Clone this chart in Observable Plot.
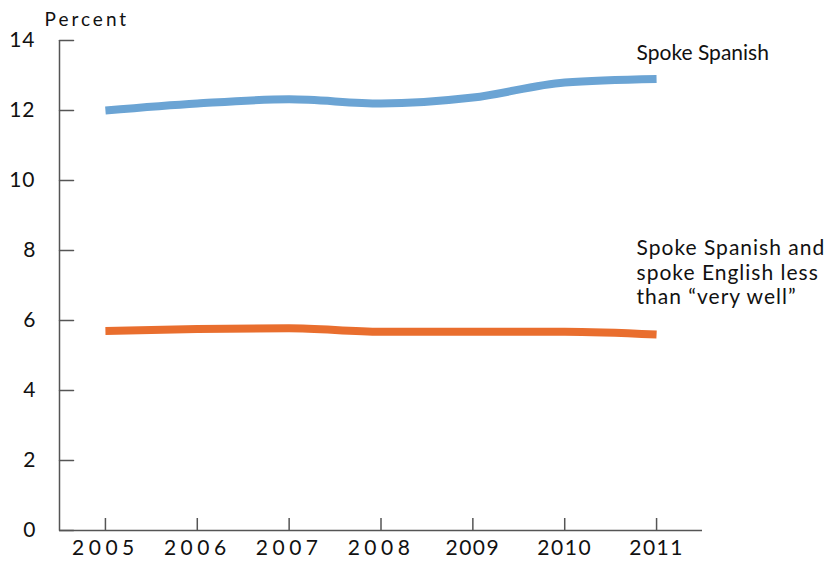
<!DOCTYPE html>
<html>
<head>
<meta charset="utf-8">
<script src="https://cdn.jsdelivr.net/npm/d3@7"></script>
<script src="https://cdn.jsdelivr.net/npm/@observablehq/plot@0.6"></script>
<style>
  html, body { margin: 0; padding: 0; background: #fff; }
  svg { font-family: Lato, "Open Sans", sans-serif; }
</style>
</head>
<body>
<div id="chart"></div>
<script>
const years = [2005, 2006, 2007, 2008, 2009, 2010, 2011];
const spokeSpanish = [12.0, 12.2, 12.32, 12.2, 12.37, 12.8, 12.9];
const spokeEnglishLess = [5.7, 5.76, 5.78, 5.68, 5.68, 5.68, 5.6];
const seriesNames = ["Spoke Spanish", "Spoke Spanish and\nspoke English less\nthan \u201cvery well\u201d"];
const yTicks = [0, 2, 4, 6, 8, 10, 12, 14];
const yAxisTitle = "Percent";

const xDomain = [years[0] - 0.5, years[years.length - 1] + 0.5];
const colors = ["#6ba4d4", "#e96e2e"];

const data = [];
years.forEach((yr, i) => {
  data.push({year: yr, value: spokeSpanish[i], series: seriesNames[0]});
  data.push({year: yr, value: spokeEnglishLess[i], series: seriesNames[1]});
});
const lastA = {year: years[years.length - 1], value: spokeSpanish[spokeSpanish.length - 1], label: seriesNames[0]};
const lastB = {year: years[years.length - 1], value: spokeEnglishLess[spokeEnglishLess.length - 1], label: seriesNames[1]};

const axisColor = "#555";
const tickShape = {draw(context, l) { context.moveTo(0, 0); context.lineTo(0, -l); }};

const chart = Plot.plot({
  width: 827,
  height: 561,
  marginLeft: 59,
  marginRight: 125,
  marginTop: 40,
  marginBottom: 31,
  x: {domain: xDomain},
  y: {domain: [0, 14]},
  color: {domain: seriesNames, range: colors},
  marks: [
    Plot.line(data, {x: "year", y: "value", stroke: "series", z: "series", strokeWidth: 8, curve: "monotone-x", strokeLinecap: "butt"}),
    Plot.ruleX([xDomain[0]], {stroke: axisColor, strokeWidth: 1.5}),
    Plot.ruleY([0], {stroke: axisColor, strokeWidth: 1.5}),
    Plot.vector(yTicks, {x: () => xDomain[0], y: d => d, rotate: 90, length: 14, anchor: "start", shape: tickShape, stroke: axisColor, strokeWidth: 1.5}),
    Plot.axisY({ticks: yTicks, tickSize: 0, tickPadding: 24, fontSize: 21, label: null, color: "#111"}),
    Plot.axisX({ticks: years, tickSize: -12, tickPadding: 22, fontSize: 21, stroke: axisColor, strokeWidth: 1.5, label: null, tickFormat: d => String(d), color: "#111"}),
    Plot.text([yAxisTitle], {frameAnchor: "top-left", text: d => d, dx: -15, dy: -28, textAnchor: "start", fontSize: 19, fill: "#111"}),
    Plot.text([lastA], {x: "year", y: "value", text: "label", dx: -20, dy: -26, textAnchor: "start", fontSize: 21, fill: "#111"}),
    Plot.text([lastB], {x: "year", y: "value", text: "label", dx: -20, dy: -97, textAnchor: "start", lineAnchor: "top", lineHeight: 1.17, fontSize: 21, fill: "#111"})
  ]
});
document.getElementById("chart").appendChild(chart);

// letter spacing as in the reference typography
d3.select(chart).selectAll("text").each(function() {
  const t = this.textContent;
  if (t === yAxisTitle) this.setAttribute("letter-spacing", "3px");
  else if (["2005", "2006", "2007", "2008"].includes(t)) this.setAttribute("letter-spacing", "4.5px");
  else if (["2009", "2010", "2011"].includes(t)) this.setAttribute("letter-spacing", "1.5px");
  else if (["12", "14", "10"].includes(t)) this.setAttribute("letter-spacing", "1px");
  else if (t.startsWith("Spoke Spanish and")) this.setAttribute("letter-spacing", "1px");
});
</script>
</body>
</html>
